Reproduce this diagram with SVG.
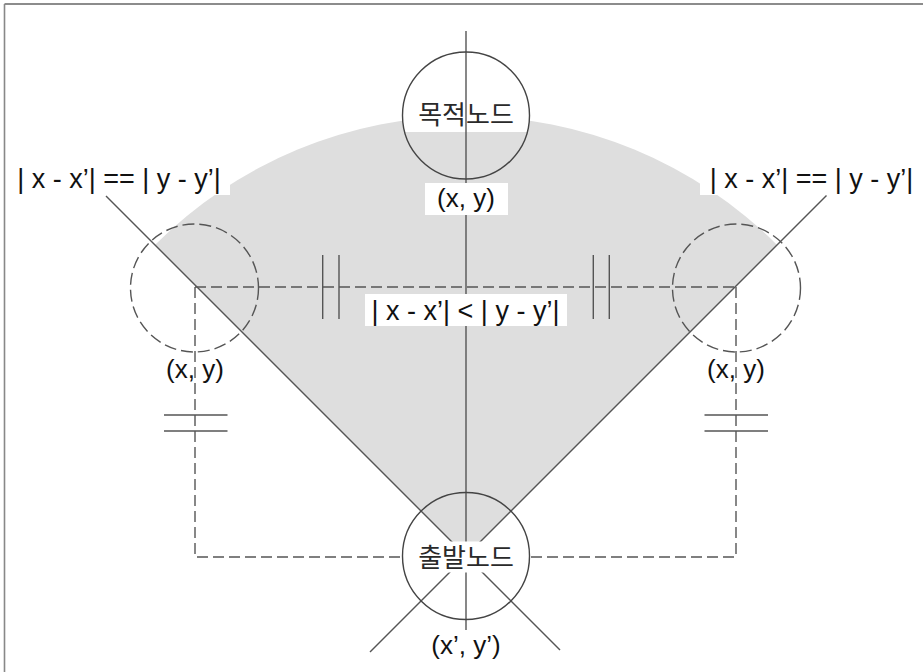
<svg xmlns="http://www.w3.org/2000/svg" width="923" height="672" viewBox="0 0 923 672">
  <style>
    .line { stroke: #555; stroke-width: 1.4; fill: none; }
    .dash { stroke: #555; stroke-width: 1.4; fill: none; stroke-dasharray: 11 5; }
    .node { stroke: #444; stroke-width: 1.4; fill: none; }
    .cand { stroke: #555; stroke-width: 1.4; fill: none; stroke-dasharray: 12 5; }
    .bg { fill: #ffffff; stroke: none; }
    .lbl { font-family: "Liberation Sans", Arial, sans-serif; font-size: 26px; fill: #111; text-anchor: middle; }
    .big { font-size: 27px; }
    .ko { font-family: "Noto Sans CJK KR", "Noto Sans", sans-serif; font-size: 26px; fill: #2a2a2a; text-anchor: middle; }
  </style>
  <rect width="923" height="672" fill="#ffffff"/>
  <g id="frame">
    <line x1="4.5" y1="4" x2="923" y2="4" stroke="#666" stroke-width="1.6"/>
    <line x1="4.5" y1="4" x2="4.5" y2="672" stroke="#888" stroke-width="1.6"/>
  </g>
  <g id="region">
    <path d="M466 556 L154.9 244.9 A440 440 0 0 1 777.1 244.9 Z" fill="#dedede"/>
    <rect class="bg" x="10" y="166" width="220" height="29"/>
    <rect class="bg" x="700" y="166" width="220" height="29"/>
    <path class="bg" d="M404.7 132 A63.5 63.5 0 1 1 527.3 132 Z"/>
  </g>
  <g id="connectors">
    <line class="line" x1="466" y1="31" x2="466" y2="630"/>
    <line class="line" x1="106" y1="196" x2="560" y2="650"/>
    <line class="line" x1="826.5" y1="195.5" x2="370" y2="652"/>
    <path class="dash" d="M195 287 H736"/>
    <path class="dash" d="M195 287 V557 H402.5"/>
    <path class="dash" d="M736 287 V557 H529.5"/>
    <g id="equal-marks" class="line">
      <line x1="322.7" y1="255" x2="322.7" y2="319"/>
      <line x1="339" y1="255" x2="339" y2="319"/>
      <line x1="593.3" y1="255" x2="593.3" y2="319"/>
      <line x1="609.3" y1="255" x2="609.3" y2="319"/>
      <line x1="164" y1="415" x2="227.5" y2="415"/>
      <line x1="164" y1="431" x2="227.5" y2="431"/>
      <line x1="704.5" y1="415" x2="768" y2="415"/>
      <line x1="704.5" y1="431" x2="768" y2="431"/>
    </g>
  </g>
  <g id="label-boxes">
    <rect class="bg" x="425" y="183" width="83" height="32"/>
    <rect class="bg" x="365" y="294" width="202" height="32"/>
    <rect class="bg" x="408" y="541.5" width="116" height="31"/>
  </g>
  <g id="goal-node">
    <circle class="node" cx="466" cy="115.5" r="63.5"/>
    <text class="ko" x="466" y="123.5">목적노드</text>
    <text class="lbl" x="466" y="206.5">(x, y)</text>
  </g>
  <g id="start-node">
    <circle class="node" cx="466" cy="556" r="63.5"/>
    <text class="ko" x="466" y="566.5">출발노드</text>
    <text class="lbl" x="466" y="654">(x’, y’)</text>
  </g>
  <g id="left-node">
    <circle class="cand" cx="194.5" cy="288" r="64"/>
    <text class="lbl" x="195" y="378">(x, y)</text>
  </g>
  <g id="right-node">
    <circle class="cand" cx="736.5" cy="288" r="64"/>
    <text class="lbl" x="736" y="378">(x, y)</text>
  </g>
  <g id="labels">
    <text class="lbl big" x="119" y="187.5">| x - x’| == | y - y’|</text>
    <text class="lbl big" x="811.5" y="187.5">| x - x’| == | y - y’|</text>
    <text class="lbl big" x="465.5" y="319.5">| x - x’| &lt; | y - y’|</text>
  </g>
</svg>
